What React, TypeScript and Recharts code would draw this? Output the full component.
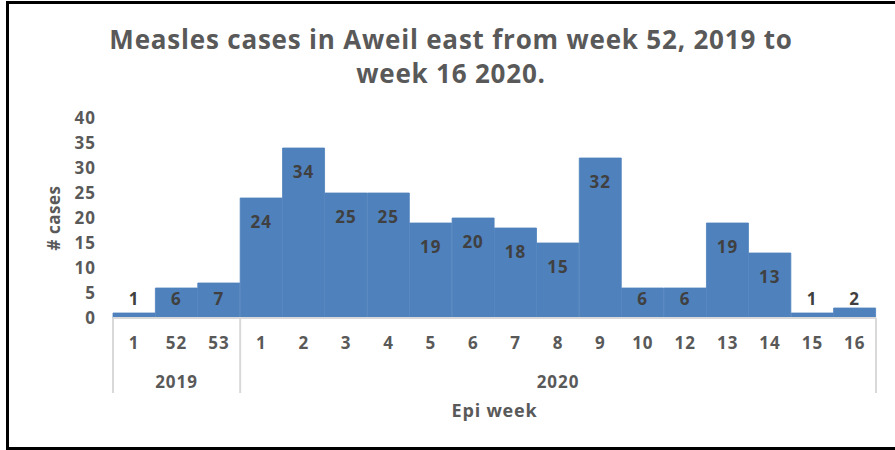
import React from 'react';
import { BarChart, Bar, XAxis, YAxis, LabelList } from 'recharts';

// Epi weeks, their year and weekly measles cases
const weeks = ['1', '52', '53', '1', '2', '3', '4', '5', '6', '7', '8', '9', '10', '12', '13', '14', '15', '16'];
const years = ['2019', '2019', '2019', '2020', '2020', '2020', '2020', '2020', '2020', '2020', '2020', '2020', '2020', '2020', '2020', '2020', '2020', '2020'];
const cases = [1, 6, 7, 24, 34, 25, 25, 19, 20, 18, 15, 32, 6, 6, 19, 13, 1, 2];
const yTicks = [0, 5, 10, 15, 20, 25, 30, 35, 40];

const data = weeks.map((w, i) => ({ idx: i, week: w, year: years[i], cases: cases[i] }));

const W = 895;
const H = 450;
const PLOT_LEFT = 113;
const PLOT_RIGHT = 876;
const PLOT_TOP = 118;
const PLOT_BOTTOM = 318;
const BAND = (PLOT_RIGHT - PLOT_LEFT) / weeks.length;

const FONT = '"Open Sans", sans-serif';
const GRAY = '#595959';
const LINE = '#d9d9d9';
const BLUE = '#4f81bd';

// year groups: first index, last index
const groups = years.reduce<{ year: string; start: number; end: number }[]>((acc, y, i) => {
  const last = acc[acc.length - 1];
  if (last && last.year === y) last.end = i;
  else acc.push({ year: y, start: i, end: i });
  return acc;
}, []);

const tickText = { fill: GRAY, fontSize: 17, fontWeight: 700, fontFamily: FONT, letterSpacing: 1 };

const WeekTick = (props: any) => {
  const { x, payload } = props;
  const i = payload.value as number;
  const left = x - BAND / 2;
  const right = x + BAND / 2;
  const group = groups.find((g) => g.start <= i && i <= g.end)!;
  const groupMid = (group.start + group.end) / 2;
  return (
    <g>
      <text x={x} y={342} textAnchor="middle" dominantBaseline="central" {...tickText}>
        {weeks[i]}
      </text>
      {i === group.start && <line x1={left} x2={left} y1={PLOT_BOTTOM} y2={393} stroke={LINE} strokeWidth={2} />}
      {i === weeks.length - 1 && <line x1={right} x2={right} y1={PLOT_BOTTOM} y2={393} stroke={LINE} strokeWidth={2} />}
      {Math.abs(i - groupMid) < 0.01 && (
        <text x={x} y={381} textAnchor="middle" dominantBaseline="central" {...tickText}>
          {group.year}
        </text>
      )}
      {Math.abs(i + 0.5 - groupMid) < 0.01 && (
        <text x={right} y={381} textAnchor="middle" dominantBaseline="central" {...tickText}>
          {group.year}
        </text>
      )}
    </g>
  );
};

const BarValue = (props: any) => {
  const { x, y, width, value } = props;
  const cy = Math.min(Number(y) + 23, 298);
  return (
    <text x={Number(x) + Number(width) / 2} y={cy} textAnchor="middle" dominantBaseline="central" {...tickText} fill="#404040">
      {value}
    </text>
  );
};

export default function App() {
  return (
    <div style={{ position: 'absolute', left: 0, top: 0, width: W, height: H, overflow: 'hidden', background: '#fff', fontFamily: FONT }}>
      <div style={{ position: 'absolute', left: 6, top: 1, width: W + 20, height: H - 1, border: '3px solid #000', boxSizing: 'border-box' }} />
      <div style={{ position: 'absolute', left: 0, top: 22, width: 902, textAlign: 'center', color: GRAY, fontSize: 26, fontWeight: 700, lineHeight: '34px', letterSpacing: 0.8 }}>
        Measles cases in Aweil east from week 52, 2019 to
        <br />
        week 16 2020.
      </div>
      <div style={{ position: 'absolute', left: 53, top: 218, transform: 'translate(-50%, -50%) rotate(-90deg)', color: GRAY, fontSize: 17, fontWeight: 700, whiteSpace: 'nowrap', letterSpacing: 0.5 }}>
        # cases
      </div>
      <div style={{ position: 'absolute', left: (PLOT_LEFT + PLOT_RIGHT) / 2, top: 410, transform: 'translate(-50%, -50%)', color: GRAY, fontSize: 18, fontWeight: 700, whiteSpace: 'nowrap', letterSpacing: 0.8 }}>
        Epi week
      </div>
      <div style={{ position: 'absolute', left: 0, top: 0 }}>
        <BarChart
          width={W}
          height={H}
          data={data}
          margin={{ top: PLOT_TOP, right: W - PLOT_RIGHT, bottom: 0, left: 0 }}
          barCategoryGap={0}
          barGap={0}
        >
          <XAxis
            dataKey="idx"
            type="category"
            interval={0}
            height={H - PLOT_BOTTOM}
            tickLine={false}
            axisLine={{ stroke: LINE, strokeWidth: 2 }}
            tick={<WeekTick />}
          />
          <YAxis
            width={PLOT_LEFT}
            domain={[0, 40]}
            ticks={yTicks}
            tickLine={false}
            axisLine={false}
            tickSize={0}
            tickMargin={17}
            tick={tickText}
          />
          <Bar dataKey="cases" fill={BLUE} stroke={BLUE} strokeWidth={0.8} isAnimationActive={false}>
            <LabelList dataKey="cases" content={<BarValue />} />
          </Bar>
        </BarChart>
      </div>
    </div>
  );
}
